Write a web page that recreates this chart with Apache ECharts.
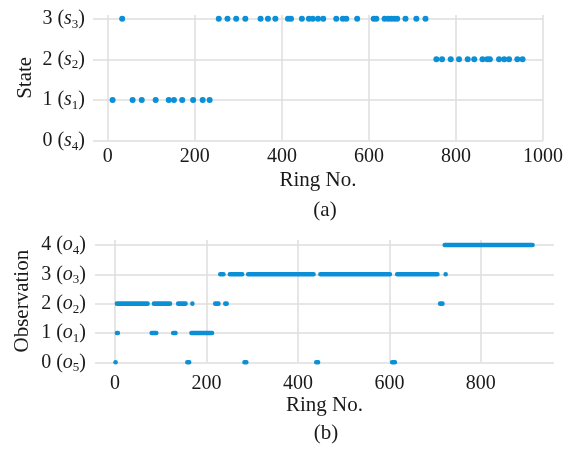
<!DOCTYPE html>
<html>
<head>
<meta charset="utf-8">
<script src="https://cdn.jsdelivr.net/npm/echarts@6/dist/echarts.min.js"></script>
<style>html,body{margin:0;padding:0;background:#fff}#c{width:571px;height:449px}</style>
</head>
<body>
<div id="c"></div>
<script>
// ---- data ----
// (a) State per ring
var state1Rings = [11, 57, 78, 110, 140, 152, 171, 196, 218, 234];
var state2Rings = [755, 768, 788, 807, 827, 842, 861, 872, 878, 899, 911, 922, 941, 953];
var state3Rings = [33, 255, 275, 295, 316, 351, 368, 385, 414, 421, 446, 462, 471, 483, 495, 525, 540, 548, 573, 611, 617, 636, 644, 651, 658, 665, 684, 709, 730];
var stateTicks = [0, 1, 2, 3];
var stateSubs = ['4', '1', '2', '3'];          // 0 (s4), 1 (s1), 2 (s2), 3 (s3)
var ringTicksA = [0, 200, 400, 600, 800, 1000];

// (b) Observation runs: [first ring, last ring]
var obs0Runs = [[1, 1], [158, 162], [283, 287], [440, 444], [606, 612]];
var obs1Runs = [[4, 6], [80, 90], [127, 132], [167, 212]];
var obs2Runs = [[4, 71], [85, 120], [138, 154], [169, 169], [219, 226], [241, 244], [711, 716]];
var obs3Runs = [[230, 237], [251, 278], [291, 434], [449, 601], [617, 705], [723, 723]];
var obs4Runs = [[721, 913]];
var obsTicks = [0, 1, 2, 3, 4];
var obsSubs = ['5', '1', '2', '3', '4'];        // 0 (o5), 1 (o1) ...
var ringTicksB = [0, 200, 400, 600, 800];

// ---- build ----
var BLUE = '#0b8fd6';
var FONT = '"Liberation Serif", "Times New Roman", serif';
var TXT = '#1a1a1a';
var GRID = '#dedede';

function pts(rings, v) { return rings.map(function (r) { return [r, v]; }); }
function runs(list, v) { return list.map(function (r) { return [r[0], r[1], v]; }); }
function plain(v) { return String(v); }

var rich = {
  i: { fontFamily: FONT, fontSize: 20, fontStyle: 'italic', color: TXT, lineHeight: 24 },
  sub: { fontFamily: FONT, fontSize: 13, color: TXT, lineHeight: 13, verticalAlign: 'bottom' }
};
function yLabel(letter, subs) {
  return function (v) {
    return v + ' ({i|' + letter + '}{sub|' + subs[v] + '})';
  };
}

var chart = echarts.init(document.getElementById('c'), null, { renderer: 'canvas' });

var tickLabelStyle = { fontFamily: FONT, fontSize: 20, color: TXT };
var nameStyle = { fontFamily: FONT, fontSize: 21, color: TXT };

chart.setOption({
  animation: false,
  backgroundColor: '#fff',
  grid: [
    { left: 93, right: 28, top: 15, height: 125.7 },
    { left: 95, right: 17, top: 240, height: 122.3 }
  ],
  xAxis: [
    {
      gridIndex: 0, type: 'value', min: -34, max: 1000,
      axisLine: { show: false },
      axisTick: { show: false, customValues: ringTicksA },
      axisLabel: Object.assign({ customValues: ringTicksA, margin: 6, formatter: plain }, tickLabelStyle),
      splitLine: { show: true, lineStyle: { color: GRID, width: 1.5 } },
      name: 'Ring No.', nameLocation: 'middle', nameGap: 29, nameMoveOverlap: false, nameTextStyle: nameStyle
    },
    {
      gridIndex: 1, type: 'value', min: -44, max: 960,
      axisLine: { show: false },
      axisTick: { show: false, customValues: ringTicksB },
      axisLabel: Object.assign({ customValues: ringTicksB, margin: 11, formatter: plain }, tickLabelStyle),
      splitLine: { show: true, lineStyle: { color: GRID, width: 1.5 } },
      name: 'Ring No.', nameLocation: 'middle', nameGap: 33, nameMoveOverlap: false, nameTextStyle: nameStyle
    }
  ],
  yAxis: [
    {
      gridIndex: 0, type: 'value', min: 0, max: 3.09,
      axisLine: { show: false },
      axisTick: { show: false, customValues: stateTicks },
      axisLabel: Object.assign({ customValues: stateTicks, margin: 8, lineHeight: 24, rich: rich,
        formatter: yLabel('s', stateSubs) }, tickLabelStyle),
      splitLine: { show: true, lineStyle: { color: GRID, width: 1.5 } },
      name: 'State', nameLocation: 'middle', nameGap: 57, nameMoveOverlap: false, nameTextStyle: nameStyle
    },
    {
      gridIndex: 1, type: 'value', min: 0, max: 4.17,
      axisLine: { show: false },
      axisTick: { show: false, customValues: obsTicks },
      axisLabel: Object.assign({ customValues: obsTicks, margin: 9, lineHeight: 24, rich: rich,
        formatter: yLabel('o', obsSubs) }, tickLabelStyle),
      splitLine: { show: true, lineStyle: { color: GRID, width: 1.5 } },
      name: 'Observation', nameLocation: 'middle', nameGap: 62, nameMoveOverlap: false, nameTextStyle: nameStyle
    }
  ],
  series: [
    { type: 'scatter', xAxisIndex: 0, yAxisIndex: 0, symbolSize: 6, itemStyle: { color: BLUE, opacity: 1 },
      data: pts(state1Rings, 1).concat(pts(state2Rings, 2), pts(state3Rings, 3)) },
    {
      type: 'custom', xAxisIndex: 1, yAxisIndex: 1,
      encode: { x: [0, 1], y: 2 },
      data: runs(obs0Runs, 0).concat(runs(obs1Runs, 1), runs(obs2Runs, 2), runs(obs3Runs, 3), runs(obs4Runs, 4)),
      renderItem: function (params, api) {
        var s = api.coord([api.value(0), api.value(2)]);
        var e = api.coord([api.value(1), api.value(2)]);
        var h = 4.6;
        return {
          type: 'rect',
          shape: { x: s[0] - h / 2, y: s[1] - h / 2, width: e[0] - s[0] + h, height: h, r: h / 2 },
          style: { fill: BLUE }
        };
      }
    }
  ],
  graphic: [
    { type: 'text', x: 325, y: 210, style: { text: '(a)', font: '21px ' + FONT, fill: TXT, textAlign: 'center', textVerticalAlign: 'middle' } },
    { type: 'text', x: 326, y: 433, style: { text: '(b)', font: '21px ' + FONT, fill: TXT, textAlign: 'center', textVerticalAlign: 'middle' } }
  ]
});
</script>
</body>
</html>
